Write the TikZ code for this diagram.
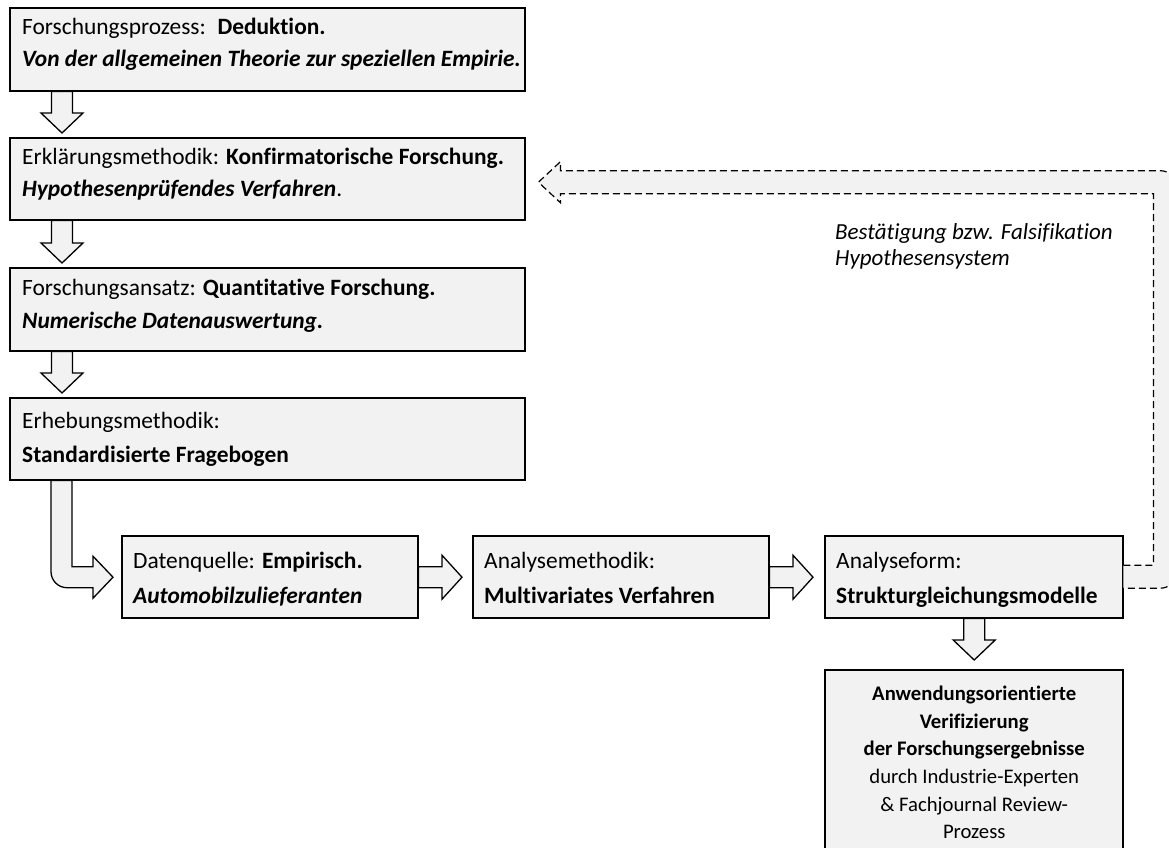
\documentclass[tikz,border=0pt]{standalone}
\usepackage{fontspec}
\setmainfont{Carlito}[Ligatures=NoCommon]
\usetikzlibrary{calc}

\definecolor{boxgray}{HTML}{F2F2F2}

% vertical block arrow: #1 = top centre on the box edge, #2 = tip
\newcommand\blockdown[2]{%
  \filldraw[blockarrow] let \p1=(#1), \p2=(#2) in
    (\x1-10.5pt,\y1) -- (\x1-10.5pt,\y2+20pt) -- (\x1-21pt,\y2+20pt) -- (\x1,\y2)
    -- (\x1+21pt,\y2+20pt) -- (\x1+10.5pt,\y2+20pt) -- (\x1+10.5pt,\y1) -- cycle;}
% horizontal block arrow: #1 = left centre on the box edge, #2 = tip
\newcommand\blockright[2]{%
  \filldraw[blockarrow] let \p1=(#1), \p2=(#2) in
    (\x1,\y1+10.5pt) -- (\x2-20pt,\y1+10.5pt) -- (\x2-20pt,\y1+22pt) -- (\x2,\y1)
    -- (\x2-20pt,\y1-22pt) -- (\x2-20pt,\y1-10.5pt) -- (\x1,\y1-10.5pt) -- cycle;}

\tikzset{
  box/.style={draw=black, fill=boxgray, line width=1.4pt, rectangle,
    inner sep=0pt, anchor=north west},
  blockarrow/.style={draw=black, fill=boxgray, line width=1.3pt, line join=miter},
  txt/.style={anchor=base west, inner sep=0pt, font=\fontsize{23.4}{28}\selectfont},
  fbtxt/.style={txt, font=\fontsize{23}{28}\selectfont\itshape},
  fbline/.style={draw=black, line width=1.2pt, dash pattern=on 7pt off 4pt},
}

\begin{document}
\begin{tikzpicture}[x=1pt,y=-1pt]
\useasboundingbox (0,0) rectangle (1169,847);
\clip (0,0) rectangle (1169,847);

% boxes of the left column
\node[box, minimum width=514pt, minimum height=82pt] (b1) at (10,8) {};
\node[box, minimum width=514pt, minimum height=81pt] (b2) at (10,138) {};
\node[box, minimum width=514pt, minimum height=82pt] (b3) at (10,268) {};
\node[box, minimum width=514pt, minimum height=81pt] (b4) at (10,398) {};

% row of analysis boxes
\node[box, minimum width=295pt, minimum height=81pt] (d) at (122,536) {};
\node[box, minimum width=295pt, minimum height=81pt] (a) at (473,536) {};
\node[box, minimum width=297pt, minimum height=81pt] (f) at (825,536) {};

% result box, running past the lower edge
\node[box, minimum width=297pt, minimum height=260pt] (g) at (825,670) {};

% block arrows
\coordinate (s1) at ($(b1.south west)+(52,0)$);
\coordinate (e1) at ($(b2.north west)+(52,-5)$);
\coordinate (s2) at ($(b2.south west)+(52,0)$);
\coordinate (e2) at ($(b3.north west)+(52,-5)$);
\coordinate (s3) at ($(b3.south west)+(52,0)$);
\coordinate (e3) at ($(b4.north west)+(52,-5)$);
\blockdown{s1}{e1}
\blockdown{s2}{e2}
\blockdown{s3}{e3}

% bent arrow from the survey box to the data source
\coordinate (bendtip) at ($(d.west)+(-9,0)$);
\filldraw[blockarrow] let \p1=(b4.south west), \p2=(bendtip) in
  (\x1+41pt,\y1) -- (\x1+41pt,\y2-10.5pt+16pt)
  arc[start angle=180, end angle=270, radius=16pt]
  -- (\x2-20pt,\y2-10.5pt) -- (\x2-20pt,\y2-21pt) -- (\x2,\y2)
  -- (\x2-20pt,\y2+21pt) -- (\x2-20pt,\y2+10.5pt) -- (\x1+62pt,\y2+10.5pt)
  -- (\x1+62pt,\y1) -- cycle;

\coordinate (ta) at ($(a.west)+(-11,0)$);
\coordinate (tf) at ($(f.west)+(-12,0)$);
\blockright{d.east}{ta}
\blockright{a.east}{tf}

\coordinate (tg) at ($(g.north)+(0,-10)$);
\blockdown{f.south}{tg}

% redraw the box outlines over the arrow joints
\foreach \n in {b1,b2,b3,b4,d,a,f,g}
  \draw[line width=1.4pt] (\n.north west) rectangle (\n.south east);

% dashed feedback arrow back to the explanation method
\coordinate (fbtip) at ($(b2.east)+(13,3)$);
\fill[boxgray] let \p1=(f.east), \p2=(fbtip) in
  (\x1,\y1+12pt) -- (\x1+30pt,\y1+12pt) -- (\x1+30pt,\y2-11.5pt)
  -- (\x2+22pt,\y2-11.5pt) -- (\x2+22pt,\y2-20.5pt) -- (\x2,\y2)
  -- (\x2+22pt,\y2+20.5pt) -- (\x2+22pt,\y2+11.5pt)
  -- (\x1+37pt,\y2+11.5pt) arc[start angle=90, end angle=0, radius=16pt]
  -- (\x1+53pt,\y1-11pt+16pt) arc[start angle=0, end angle=-90, radius=16pt]
  -- (\x1,\y1-11pt) -- cycle;
\draw[fbline] let \p1=(f.east), \p2=(fbtip) in
  (\x1,\y1+12pt) -- (\x1+30pt,\y1+12pt) -- (\x1+30pt,\y2-11.5pt)
  -- (\x2+22pt,\y2-11.5pt) -- (\x2+22pt,\y2-20.5pt) -- (\x2,\y2)
  -- (\x2+22pt,\y2+20.5pt) -- (\x2+22pt,\y2+11.5pt)
  -- (\x1+37pt,\y2+11.5pt) arc[start angle=90, end angle=0, radius=16pt]
  -- (\x1+53pt,\y1-11pt+16pt) arc[start angle=0, end angle=-90, radius=16pt]
  -- (\x1,\y1-11pt);

% texts
\node[txt] (t1a) at (22,34) {Forschungsprozess:\hspace{0.2em} \textbf{Deduktion.}};
\node[txt] (t1b) at (22,66) {\textbf{\itshape Von der allgemeinen Theorie zur speziellen Empirie.}};
\node[txt] (t2a) at (22,164) {Erklärungsmethodik: \textbf{Konfirmatorische Forschung.}};
\node[txt] (t2b) at (22,196) {\textbf{\itshape Hypothesenprüfendes Verfahren}.};
\node[txt] (t3a) at (22,295) {Forschungsansatz: \textbf{Quantitative Forschung.}};
\node[txt] (t3b) at (22,328) {\textbf{\itshape Numerische Datenauswertung.}};
\node[txt] (t4a) at (22,428) {Erhebungsmethodik:};
\node[txt] (t4b) at (22,462) {\textbf{Standardisierte Fragebogen}};
\node[txt] (tda) at (133,568) {Datenquelle: \textbf{Empirisch.}};
\node[txt] (tdb) at (133,603) {\textbf{\itshape Automobilzulieferanten}};
\node[txt] (taa) at (484,568) {Analysemethodik:};
\node[txt] (tab) at (484,603) {\textbf{Multivariates Verfahren}};
\node[txt] (tfa) at (836,568) {Analyseform:};
\node[txt] (tfb) at (836,603) {\textbf{Strukturgleichungsmodelle}};
\node[fbtxt] (fb1) at (835,239) {Bestätigung bzw. Falsifikation};
\node[fbtxt] (fb2) at (835,265) {Hypothesensystem};
\node[anchor=north, inner sep=0pt, align=center,
      font=\fontsize{20.7}{27.6}\selectfont] (tg1) at ($(g.north)+(0,16)$)
  {\textbf{Anwendungsorientierte}\\ \textbf{Verifizierung}\\
   \textbf{der Forschungsergebnisse}\\ durch Industrie-Experten\\
   \& Fachjournal Review-\\ Prozess};
\end{tikzpicture}
\end{document}
